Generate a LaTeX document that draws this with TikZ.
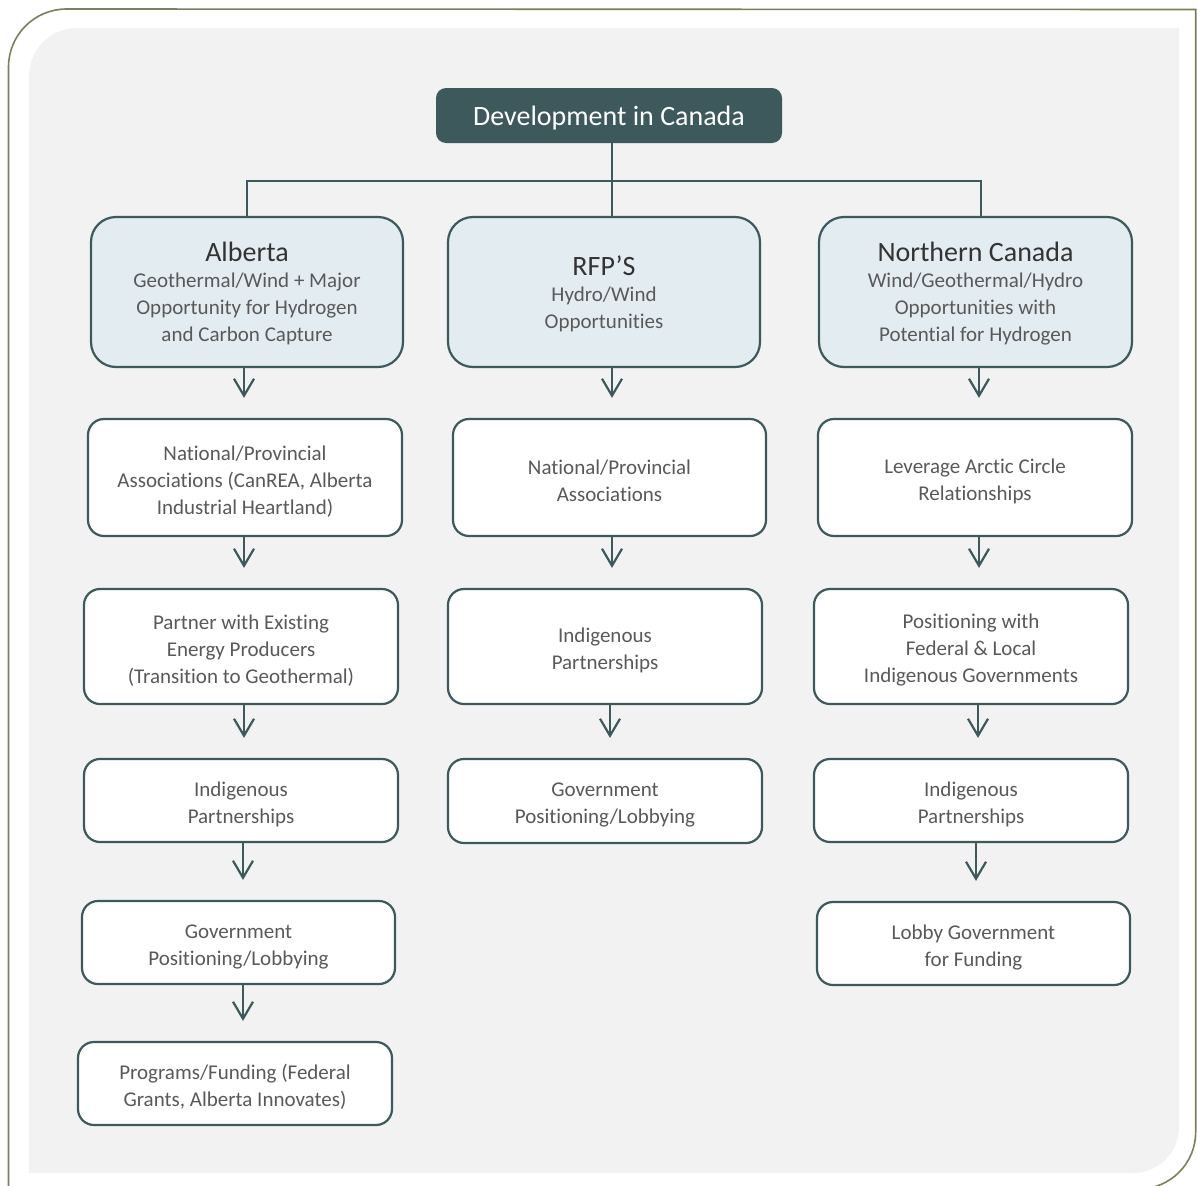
\documentclass[tikz,border=0pt]{standalone}
\usepackage{fontspec}
\setmainfont{Carlito}[Ligatures=NoCommon]
\usetikzlibrary{arrows.meta}

\definecolor{tealline}{HTML}{3D595B}
\definecolor{lightblue}{HTML}{E3ECF1}
\definecolor{bggray}{HTML}{F2F2F2}
\definecolor{olive}{HTML}{7E7E5C}
\definecolor{bodygray}{HTML}{595959}
\definecolor{headgray}{HTML}{333333}

\newcommand{\boxhead}[1]{{\color{headgray}\fontsize{28}{27}\selectfont\rule{0pt}{23pt}#1}}
\newcommand{\boxstrut}{\rule{0pt}{22pt}}

\begin{document}
\begin{tikzpicture}[x=1pt, y=-1pt,
  box/.style={draw=tealline, line width=2.2pt, fill=white, rounded corners=16pt,
    text=bodygray, align=center, inner sep=0pt, minimum width=313pt,
    font=\fontsize{21}{27}\selectfont},
  region/.style={box, fill=lightblue, rounded corners=25pt, minimum height=150pt},
  conn/.style={draw=tealline, line width=2.2pt},
  arr/.style={conn, -{Straight Barb[length=17pt, width=20pt, line width=2.2pt]}, shorten >=20pt}]
  % page and frame
  \clip (0,0) rectangle (1197,1186);
  \fill[bggray] (29,1173) -- (29,76) arc[start angle=180, end angle=270, radius=48]
    -- (1179,28) -- (1179,1127) arc[start angle=0, end angle=90, radius=46] -- cycle;
  \draw[olive, line width=1.6pt] (8.5,1200) -- (8.5,67) arc[start angle=180, end angle=270, radius=58]
    -- (1195.7,9.5) -- (1195.7,1132) arc[start angle=0, end angle=90, radius=57];

  % top
  \node[fill=tealline, rounded corners=10pt, text=white, minimum width=346pt, minimum height=55pt,
    font=\fontsize{28}{32}\selectfont] (title) at (609,115.5) {\rule{0pt}{25pt}Development in Canada};

  \node[region, minimum width=312pt] (alb) at (247,292)
    {\boxhead{Alberta}\\[-1pt] Geothermal/Wind + Major\\ Opportunity for Hydrogen\\ and Carbon Capture};
  \node[region, minimum width=312pt] (rfp) at (604,292)
    {\boxhead{RFP’S}\\[-1pt] Hydro/Wind\\ Opportunities};
  \node[region] (nor) at (975.5,292)
    {\boxhead{Northern Canada}\\[-1pt] Wind/Geothermal/Hydro\\ Opportunities with\\ Potential for Hydrogen};

  \draw[conn] ([xshift=3pt]title.south) -- ([xshift=3pt]title.south |- rfp.north);
  \draw[conn] (alb.north) -- ++(0,-35) -| ([xshift=5.5pt]nor.north);

  % Alberta column
  \node[box, minimum width=314pt, minimum height=117pt] (a1) at (245,477.5)
    {\boxstrut National/Provincial\\ Associations (CanREA, Alberta\\ Industrial Heartland)};
  \node[box, minimum width=314pt, minimum height=115pt] (a2) at (241,646.5)
    {\boxstrut Partner with Existing\\ Energy Producers\\ (Transition to Geothermal)};
  \node[box, minimum width=314pt, minimum height=83pt] (a3) at (241,800.5)
    {\boxstrut Indigenous\\ Partnerships};
  \node[box, minimum height=83pt] (a4) at (238.5,942.5)
    {\boxstrut Government\\ Positioning/Lobbying};
  \node[box, minimum width=314pt, minimum height=83pt] (a5) at (235,1083.5)
    {\boxstrut Programs/Funding (Federal\\ Grants, Alberta Innovates)};

  % RFP column
  \node[box, minimum height=117pt] (r1) at (609.5,477.5)
    {\boxstrut National/Provincial\\ Associations};
  \node[box, minimum width=314pt, minimum height=115pt] (r2) at (605,646.5)
    {\boxstrut Indigenous\\ Partnerships};
  \node[box, minimum width=314pt, minimum height=84pt] (r3) at (605,801)
    {\boxstrut Government\\ Positioning/Lobbying};

  % Northern column
  \node[box, minimum width=314pt, minimum height=117pt] (n1) at (975,477.5)
    {\boxstrut Leverage Arctic Circle\\ Relationships};
  \node[box, minimum width=314pt, minimum height=115pt] (n2) at (971,646.5)
    {\boxstrut Positioning with\\ Federal \& Local\\ Indigenous Governments};
  \node[box, minimum width=314pt, minimum height=83pt] (n3) at (971,800.5)
    {\boxstrut Indigenous\\ Partnerships};
  \node[box, minimum height=83pt] (n4) at (973.5,943.5)
    {\boxstrut Lobby Government\\ for Funding};

  % arrows, nudged sideways like the original
  \foreach \u/\v/\s in {alb/a1/-3, a1/a2/-1, a2/a3/3, a3/a4/2, a4/a5/4.5,
                        rfp/r1/8, r1/r2/2.5, r2/r3/5,
                        nor/n1/3.5, n1/n2/4, n2/n3/7, n3/n4/5}
    \draw[arr] ([xshift=\s pt]\u.south) -- ([xshift=\s pt]\u.south |- \v.north);
\end{tikzpicture}
\end{document}
